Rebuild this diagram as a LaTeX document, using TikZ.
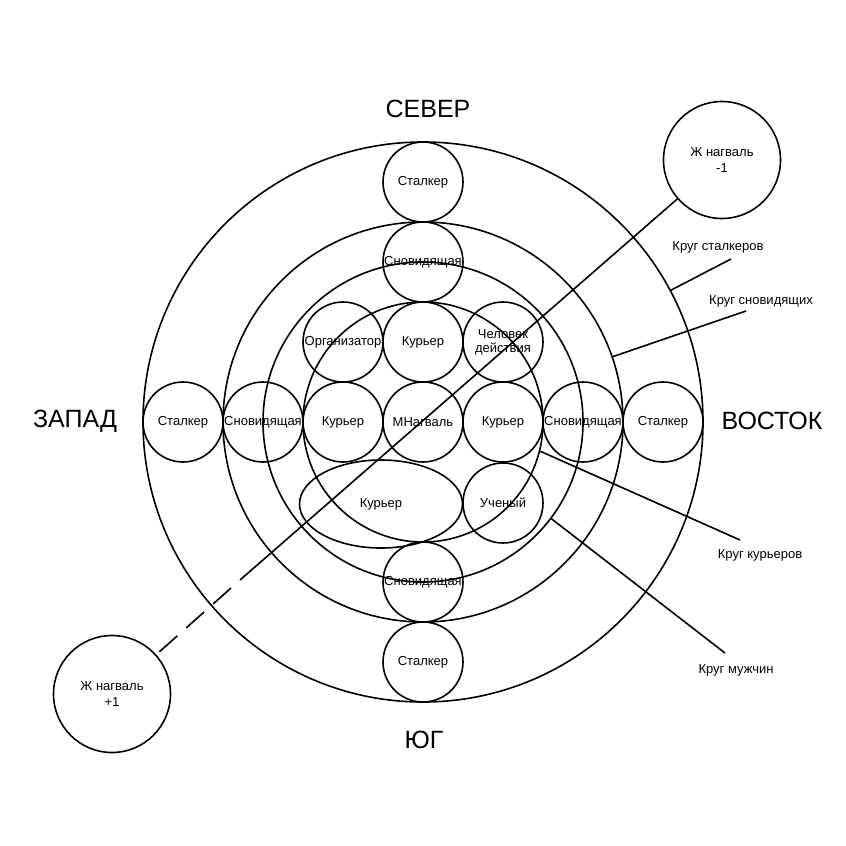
\documentclass[tikz,border=0pt]{standalone}
\usepackage{fontspec}
\setmainfont{Liberation Sans}
\usetikzlibrary{positioning, shapes.geometric}

\begin{document}
\begin{tikzpicture}[x=1pt, y=-1pt, line width=1.6pt,
  every node/.style={font=\fontsize{13}{16}\selectfont},
  ring/.style={draw, circle, inner sep=0pt},
  role/.style={draw, circle, minimum size=80pt, inner sep=0pt, align=center},
  woman/.style={draw, circle, minimum size=117pt, inner sep=0pt, align=center},
  side/.style={font=\fontsize{25}{30}\selectfont},
]
\useasboundingbox (0,0) rectangle (846,846);

% rings
\node[ring, minimum size=560pt] (ringS) at (423,422) {};
\node[ring, minimum size=400pt] (ringD) at (423,422) {};
\node[ring, minimum size=320pt] (ringM) at (423,422) {};
\node[ring, minimum size=240pt] (ringC) at (423,422) {};

% vertical axis
\node[role] (stN) at (423,182) {Сталкер};
\node[role] (drN) at (423,262) {Сновидящая};
\node[role] (cuN) at (423,342) {Курьер};
\node[role] (nagual) at (423,422) {МНагваль};
\node[role] (drS) at (423,582) {Сновидящая};
\node[role] (stS) at (423,662) {Сталкер};

% horizontal axis
\node[role] (stW) at (183,422) {Сталкер};
\node[role] (drW) at (263,422) {Сновидящая};
\node[role] (cuW) at (343,422) {Курьер};
\node[role] (cuE) at (503,422) {Курьер};
\node[role] (drE) at (583,422) {Сновидящая};
\node[role] (stE) at (663,422) {Сталкер};

\node[role] (org) at (343,342) {Организатор};
\node[role] (man) at (503,342) {Человек\\[-2pt]действия};
\node[role] (sci) at (503,503) {Ученый};
\node[draw, ellipse, minimum width=163pt, minimum height=88pt, inner sep=0pt] (cuSW) at (381,504) {Курьер};

% female naguals
\node[woman] (wneg) at (722,160) {Ж нагваль\\-1};
\node[woman] (wpos) at (112,694) {Ж нагваль\\+1};
\coordinate (dashstart) at (240,580);
\draw (wneg) -- (dashstart);
\draw[dash pattern=on 24pt off 12pt, dash phase=24pt] (dashstart) -- (wpos);

% sides
\node[side] (north) at (428,109) {СЕВЕР};
\node[side] (south) at (424,740) {ЮГ};
\node[side] (west) at (75,421) {ЗАПАД};
\node[side] (east) at (772,421) {ВОСТОК};

% ring labels
\node (lblS) at (718,247) {Круг сталкеров};
\node (lblD) at (761,301) {Круг сновидящих};
\node (lblC) at (760,555) {Круг курьеров};
\node (lblM) at (736,670) {Круг мужчин};
\coordinate (endS) at (731,259);
\coordinate (endD) at (746,311);
\coordinate (endC) at (740,540);
\coordinate (endM) at (725,653);
\draw (ringS.28) -- (endS);
\draw (ringD.19) -- (endD);
\draw (ringC.-14.6) -- (endC);
\draw (ringM.-37.6) -- (endM);
\end{tikzpicture}
\end{document}
